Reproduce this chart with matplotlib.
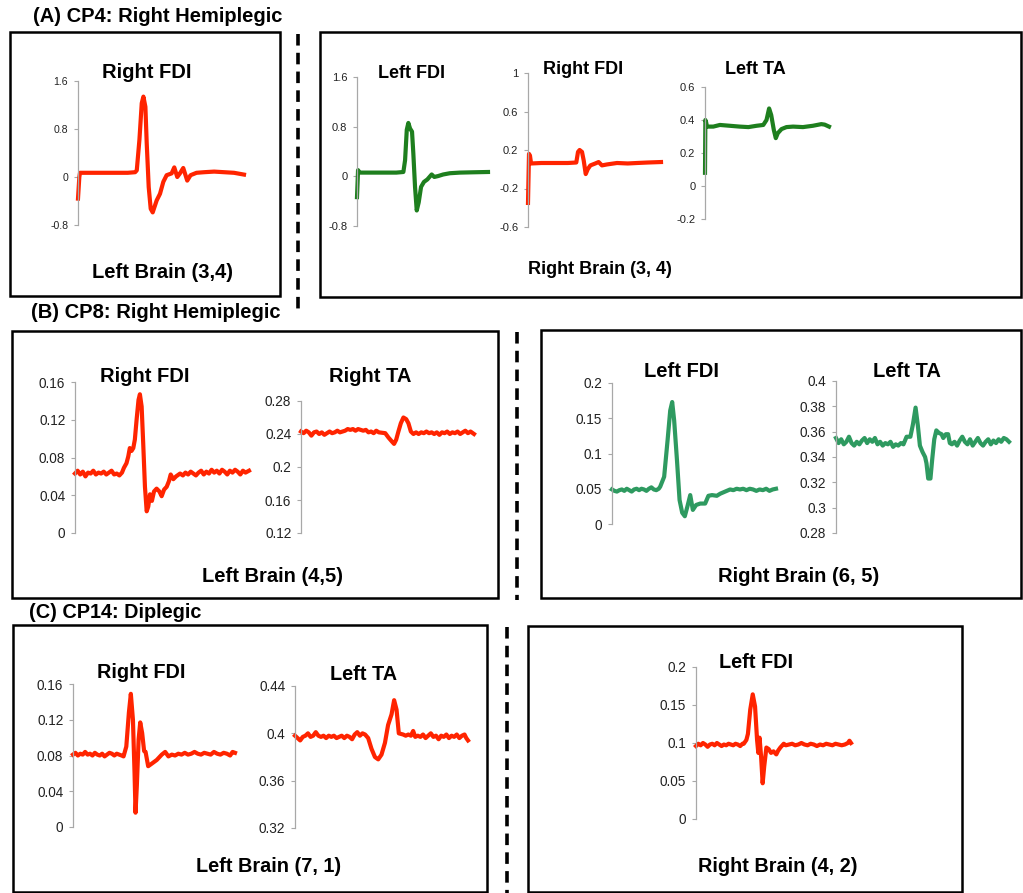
import matplotlib
matplotlib.use('Agg')
import matplotlib.pyplot as plt
from matplotlib import font_manager
from matplotlib.patches import Rectangle
from matplotlib.lines import Line2D

plt.rcParams['font.family'] = ['Liberation Sans', 'DejaVu Sans']

# the right half of panel A is horizontally squeezed in the original
have_narrow = any(f.name == 'Liberation Sans Narrow' for f in font_manager.fontManager.ttflist)
NARROW = ['Liberation Sans Narrow', 'Liberation Sans'] if have_narrow else ['Liberation Sans']

RED = '#FF2400'
DKGREEN = '#1E7F1E'
SEAGREEN = '#2E9A60'

# ---- (A) CP4 ----
a1_x = [0, 0.8, 1.2, 8, 16, 24, 30, 34.4, 35.4, 37.0, 38.4, 39.4, 40.6, 41.4, 42.6, 43.8, 45.0,
        47.4, 49.4, 51.4, 53.4, 56.4, 58.0, 59.8, 61.4, 63.4, 65.8, 67.8, 71.4, 76, 82, 88, 94, 100]
a1_y = [-0.36, 0.0, 0.07, 0.07, 0.07, 0.07, 0.07, 0.08, 0.11, 0.62, 1.23, 1.34, 1.17, 0.56, -0.17, -0.53, -0.59,
        -0.39, -0.28, -0.08, 0.03, 0.06, 0.16, 0.0, 0.06, 0.15, -0.06, 0.03, 0.07, 0.08, 0.09, 0.08, 0.07, 0.04]
a1_ticks = [-0.8, 0, 0.8, 1.6]
a1_labels = ['-0.8', '0', '0.8', '1.6']

a2_x = [0, 0.8, 2, 10, 20, 30, 35.4, 36.7, 38.0, 39.2, 40.5, 42.0, 43.0, 44.3, 45.6, 47.1, 48.9,
        51.1, 53.7, 57.0, 59.0, 62.0, 65.8, 70.9, 78.5, 88.6, 100]
a2_y = [-0.335, 0.1, 0.06, 0.06, 0.06, 0.06, 0.07, 0.26, 0.75, 0.86, 0.77, 0.72, 0.37, -0.17, -0.55, -0.42, -0.17,
        -0.09, -0.05, 0.03, -0.01, 0.005, 0.03, 0.05, 0.06, 0.065, 0.07]
a2_ticks = [-0.8, 0, 0.8, 1.6]
a2_labels = ['-0.8', '0', '0.8', '1.6']

a3_x = [0, 0.75, 1.5, 2.3, 10, 20, 30, 36.3, 37.6, 38.8, 40.6, 41.9, 43.4, 44.9, 46.9, 50.6, 53.1,
        55.6, 59.4, 66.9, 75, 82, 90, 100]
a3_y = [-0.35, 0.16, 0.14, 0.06, 0.065, 0.065, 0.065, 0.07, 0.18, 0.2, 0.18, 0.09, -0.05, 0.0, 0.04, 0.06, 0.075,
        0.04, 0.05, 0.065, 0.06, 0.065, 0.07, 0.075]
a3_ticks = [-0.6, -0.2, 0.2, 0.6, 1.0]
a3_labels = ['-0.6', '-0.2', '0.2', '0.6', '1']

a4_x = [0, 0.3, 0.8, 1.6, 6.7, 12, 20, 28, 35, 41.6, 47, 49.6, 51.7, 53.4, 55.5, 57.1, 58.7, 61.7,
        65.7, 71, 79, 87, 93.8, 96.5, 100]
a4_y = [0.08, 0.40, 0.39, 0.36, 0.36, 0.37, 0.365, 0.36, 0.357, 0.365, 0.37, 0.40, 0.47, 0.43, 0.34, 0.29, 0.32, 0.345,
        0.357, 0.36, 0.357, 0.365, 0.375, 0.372, 0.36]
a4_ticks = [-0.2, 0, 0.2, 0.4, 0.6]
a4_labels = ['-0.2', '0', '0.2', '0.4', '0.6']

# ---- (B) CP8 ----
b1_x = [0, 1.5, 3, 4.5, 6, 7.5, 9, 10.5, 12, 13.5, 15, 16.5, 18, 19.5, 21, 22.5, 24, 25.5, 27,
        28.1, 29.6, 30.6, 31.5, 32.5, 33.5, 34.4, 35.4, 36.5, 37.3, 38.3, 39.2, 40.2, 41.2, 42.1, 43.1,
        44.2, 45.4, 46.9, 48.5, 49.8, 51.2, 52.7, 54, 55, 56.5, 58.1, 60.4,
        62, 63.5, 65, 66.5, 68, 69.5, 71, 72.5, 74, 75.5, 77, 78.5, 80, 81.5, 83, 84.5, 86, 87.5,
        89, 90.5, 92, 93.5, 95, 96.5, 98, 100]
b1_y = [0.063, 0.066, 0.062, 0.065, 0.060, 0.064, 0.063, 0.066, 0.062, 0.064, 0.063, 0.065, 0.062, 0.064,
        0.066, 0.062, 0.063, 0.061, 0.064,
        0.069, 0.074, 0.081, 0.090, 0.087, 0.090, 0.099, 0.120, 0.141, 0.147, 0.134, 0.095, 0.049, 0.023,
        0.028, 0.041, 0.034, 0.044, 0.047, 0.044, 0.039, 0.046, 0.049, 0.055, 0.062, 0.057, 0.060, 0.063,
        0.061, 0.064, 0.062, 0.065, 0.063, 0.061, 0.064, 0.066, 0.062, 0.065, 0.063, 0.067, 0.064, 0.066,
        0.063, 0.067, 0.065, 0.062, 0.066, 0.064, 0.067, 0.065, 0.062, 0.066, 0.064, 0.066]
b1_ticks = [0, 0.04, 0.08, 0.12, 0.16]
b1_labels = ['0', '0.04', '0.08', '0.12', '0.16']

b2_x = [0, 1.5, 3, 4.5, 6, 7.5, 9, 10.5, 12, 13.5, 15, 16.5, 18, 19.5, 21, 22.5, 24, 25.5, 27, 28.5,
        30, 31.5, 33, 34.5, 36, 37.5, 39, 40.5, 42, 43.5, 45,
        48.7, 50.6, 52.5, 53.8, 55, 56.3, 57.7, 59.2, 60.8, 62.1, 63.5, 65,
        66.5, 68, 69.5, 71, 72.5, 74, 75.5, 77, 78.5, 80, 81.5, 83, 84.5, 86, 87.5, 89, 90.5, 92,
        93.5, 95, 96.5, 98, 100]
b2_y = [0.243, 0.241, 0.244, 0.242, 0.238, 0.242, 0.243, 0.240, 0.242, 0.239, 0.241, 0.243, 0.241, 0.242,
        0.244, 0.242, 0.243, 0.244, 0.246, 0.245, 0.246, 0.244, 0.246, 0.245, 0.244, 0.245, 0.242, 0.243,
        0.241, 0.244, 0.242,
        0.241, 0.2356, 0.231, 0.228, 0.233, 0.243, 0.253, 0.260, 0.258, 0.253, 0.243, 0.240,
        0.242, 0.240, 0.242, 0.241, 0.243, 0.241, 0.242, 0.240, 0.242, 0.239, 0.242, 0.241, 0.243, 0.240,
        0.242, 0.241, 0.243, 0.240, 0.242, 0.244, 0.241, 0.243, 0.240]
b2_ticks = [0.12, 0.16, 0.2, 0.24, 0.28]
b2_labels = ['0.12', '0.16', '0.2', '0.24', '0.28']

b3_x = [0, 1.5, 3, 4.5, 6, 7.5, 9, 10.5, 12, 13.5, 15, 16.5, 18, 19.5, 21, 22.5, 24, 25.5, 27, 28.5,
        29.4, 31.8, 33.9, 35.5, 36.7, 37.9, 39.6, 41.2, 42.8, 44.4, 46, 47.7, 49.3, 51.3, 53.8, 56.8,
        58.8, 61, 63.9, 66, 68,
        70, 72, 74, 76, 78, 80, 82, 84, 86, 88, 90, 92, 94, 96, 98, 100]
b3_y = [0.049, 0.047, 0.046, 0.048, 0.049, 0.047, 0.050, 0.048, 0.046, 0.049, 0.050, 0.048, 0.050, 0.049,
        0.047, 0.050, 0.052, 0.049, 0.048, 0.050,
        0.053, 0.067, 0.119, 0.161, 0.173, 0.147, 0.091, 0.034, 0.016, 0.011, 0.025, 0.041, 0.020, 0.027,
        0.029, 0.029, 0.040, 0.041, 0.040, 0.043, 0.045,
        0.047, 0.049, 0.048, 0.050, 0.049, 0.050, 0.048, 0.050, 0.049, 0.047, 0.049, 0.048, 0.050, 0.047,
        0.049, 0.050]
b3_ticks = [0, 0.05, 0.1, 0.15, 0.2]
b3_labels = ['0', '0.05', '0.1', '0.15', '0.2']

b4_x = [0, 1.5, 3, 4.5, 6, 7.5, 9, 10.5, 12, 13.5, 15, 16.5, 18, 19.5, 21, 22.5, 24, 25.5, 27, 28.5,
        30, 31.5, 33, 34.5, 36, 37.5,
        39, 40.8, 43, 44.5, 46, 47.3, 48.5, 50, 51.5, 52.3, 53.3, 54.6, 55.6, 56.8, 58, 59.5, 61, 62,
        63.5, 64.8, 65.8,
        67, 68.5, 70, 71.5, 73, 74.5, 76, 77.5, 79, 80.5, 82, 83.5, 85, 86.5, 88, 89.5, 91, 92.5, 94,
        95.5, 97, 98.5, 100]
b4_y = [0.355, 0.351, 0.354, 0.350, 0.352, 0.356, 0.351, 0.349, 0.352, 0.350, 0.353, 0.355, 0.351, 0.354,
        0.352, 0.355, 0.350, 0.352, 0.349, 0.351, 0.350, 0.352, 0.348, 0.350, 0.349, 0.351,
        0.350, 0.356, 0.356, 0.366, 0.379, 0.365, 0.349, 0.344, 0.340, 0.335, 0.323, 0.323, 0.338, 0.354,
        0.361, 0.359, 0.358, 0.355, 0.358, 0.358, 0.351,
        0.350, 0.352, 0.349, 0.353, 0.356, 0.352, 0.350, 0.354, 0.349, 0.352, 0.355, 0.351, 0.349, 0.352,
        0.354, 0.350, 0.353, 0.351, 0.354, 0.352, 0.355, 0.354, 0.352]
b4_ticks = [0.28, 0.3, 0.32, 0.34, 0.36, 0.38, 0.4]
b4_labels = ['0.28', '0.3', '0.32', '0.34', '0.36', '0.38', '0.4']

# ---- (C) CP14 ----
c1_x = [0, 1.5, 3, 4.5, 6, 7.5, 9, 10.5, 12, 13.5, 15, 16.5, 18, 19.5, 21, 22.5, 24, 25.5, 27, 28.5, 30,
        31.2, 32.9, 34.5, 35.7, 37, 38, 38.6, 39.4, 40.5, 41.5, 42.7, 43.9, 44.8, 46.4, 48.7, 51.7, 54.8,
        56.9, 58.9,
        61, 63, 65, 67, 69, 71, 73, 75, 77, 79, 81, 83, 85, 87, 89, 91, 93, 95, 97, 98.5, 100]
c1_y = [0.081, 0.083, 0.080, 0.082, 0.081, 0.084, 0.081, 0.082, 0.080, 0.083, 0.081, 0.080, 0.082, 0.079,
        0.081, 0.083, 0.082, 0.080, 0.082, 0.081, 0.080,
        0.079, 0.090, 0.128, 0.149, 0.120, 0.060, 0.016, 0.046, 0.098, 0.117, 0.105, 0.085, 0.084, 0.068,
        0.071, 0.075, 0.081, 0.084, 0.079,
        0.081, 0.080, 0.082, 0.081, 0.083, 0.081, 0.082, 0.084, 0.082, 0.081, 0.083, 0.082, 0.081, 0.084,
        0.082, 0.081, 0.083, 0.082, 0.080, 0.084, 0.083]
c1_ticks = [0, 0.04, 0.08, 0.12, 0.16]
c1_labels = ['0', '0.04', '0.08', '0.12', '0.16']

c2_x = [0, 1.5, 3, 4.5, 6, 7.5, 9, 10.5, 12, 13.5, 15, 16.5, 18, 19.5, 21, 22.5, 24, 25.5, 27, 28.5,
        30, 31.5, 33, 34.5, 36, 37.5, 39, 40.5,
        42.3, 44.2, 46.2, 48.1, 50, 52, 53.8, 55.8, 57.3, 58.7, 60, 62.5, 64, 65.5, 67, 68.3, 69.5,
        71, 72.5, 74, 75.5, 77, 78.5, 80, 81.5, 83, 84.5, 86, 87.5, 89, 90.5, 92, 93.5, 95, 96.5, 98,
        99, 100]
c2_y = [0.398, 0.396, 0.394, 0.397, 0.398, 0.400, 0.397, 0.398, 0.401, 0.398, 0.397, 0.398, 0.396, 0.398,
        0.397, 0.398, 0.396, 0.397, 0.398, 0.396, 0.398, 0.397, 0.395, 0.399, 0.401, 0.398, 0.400, 0.399,
        0.396, 0.387, 0.380, 0.378, 0.382, 0.392, 0.407, 0.416, 0.428, 0.420, 0.400, 0.399, 0.398, 0.399,
        0.398, 0.402, 0.397,
        0.398, 0.397, 0.399, 0.396, 0.398, 0.400, 0.397, 0.398, 0.395, 0.398, 0.397, 0.399, 0.396, 0.398,
        0.397, 0.399, 0.396, 0.398, 0.399, 0.396, 0.394]
c2_ticks = [0.32, 0.36, 0.4, 0.44]
c2_labels = ['0.32', '0.36', '0.4', '0.44']

c3_x = [0, 1.5, 3, 4.5, 6, 7.5, 9, 10.5, 12, 13.5, 15, 16.5, 18, 19.5, 21, 22.5, 24, 25.5, 27, 28.5, 30,
        30.8, 32.5, 33.5, 35, 36.6, 38.1, 39.4, 40.2, 41, 42, 43, 44, 45.4, 46.9, 48.4, 50, 51.8, 53,
        54.4, 56.6,
        58, 60, 62, 64, 66, 68, 70, 72, 74, 76, 78, 80, 82, 84, 86, 88, 90, 92, 94, 96, 98, 99, 100]
c3_y = [0.096, 0.099, 0.097, 0.100, 0.098, 0.095, 0.098, 0.099, 0.097, 0.100, 0.098, 0.096, 0.098, 0.097,
        0.099, 0.098, 0.097, 0.099, 0.098, 0.096, 0.099,
        0.099, 0.104, 0.112, 0.144, 0.164, 0.148, 0.104, 0.087, 0.107, 0.082, 0.047, 0.069, 0.094, 0.092,
        0.087, 0.089, 0.085, 0.090, 0.094, 0.099,
        0.097, 0.098, 0.099, 0.097, 0.098, 0.100, 0.098, 0.097, 0.099, 0.098, 0.096, 0.098, 0.097, 0.099,
        0.098, 0.097, 0.099, 0.098, 0.097, 0.098, 0.100, 0.103, 0.100]
c3_ticks = [0, 0.05, 0.1, 0.15, 0.2]
c3_labels = ['0', '0.05', '0.1', '0.15', '0.2']

W, H = 1023, 893
fig = plt.figure(figsize=(W / 100, H / 100), dpi=100)


def fx(x):
    return x / W


def fy(y):
    return 1 - y / H


def trace(left, top, right, bottom, xs, ys, ticks, labels, color, tsize=9.8, family=None):
    ax = fig.add_axes([fx(left), fy(bottom), (right - left) / W, (bottom - top) / H])
    ax.plot(xs, ys, color=color, lw=3.0, clip_on=False, solid_joinstyle='round')
    ax.set_xlim(0, 100)
    ax.set_ylim(ticks[0], ticks[-1])
    ax.set_yticks(ticks)
    ax.set_yticklabels(labels, fontsize=tsize, color='#222222',
                       family=family if family else ['Liberation Sans'])
    ax.set_xticks([])
    for s in ['top', 'right', 'bottom']:
        ax.spines[s].set_visible(False)
    ax.spines['left'].set_color('#A8A8A8')
    ax.spines['left'].set_linewidth(0.9)
    ax.tick_params(axis='y', direction='out', length=3, width=0.8, color='#A8A8A8', pad=4)
    ax.patch.set_visible(False)
    return ax


def label(x, y, s, ha='center', size=14.5, family=None):
    fig.text(fx(x), fy(y), s, ha=ha, va='center', fontsize=size, fontweight='bold',
             family=family if family else ['Liberation Sans'])


def box(x0, y0, x1, y1):
    fig.patches.append(Rectangle((fx(x0), fy(y1)), (x1 - x0) / W, (y1 - y0) / H,
                                 transform=fig.transFigure, fill=False, ec='black', lw=1.8))


def dashed(x, y0, y1):
    fig.lines.append(Line2D([fx(x), fx(x)], [fy(y0), fy(y1)], transform=fig.transFigure,
                            color='black', lw=2.6, dashes=(3.2, 2.0)))


# boxes and separators
box(10, 32, 280, 296)
box(320, 32, 1021, 297)
box(12, 331, 498, 598)
box(541, 330, 1021, 598)
box(13, 625, 487, 892)
box(528, 626, 962, 892)
dashed(298, 34, 312)
dashed(517, 332, 600)
dashed(507, 627, 893)

# panel A
nsz_tick = 9.2 if have_narrow else 8.0
nsz_text = 14.5 if have_narrow else 13.0
label(33, 17, '(A) CP4: Right Hemiplegic', ha='left')
trace(78, 81, 244, 225, a1_x, a1_y, a1_ticks, a1_labels, RED, tsize=7.6)
trace(357, 77, 488, 226, a2_x, a2_y, a2_ticks, a2_labels, DKGREEN, tsize=nsz_tick, family=NARROW)
trace(528, 73, 661, 227, a3_x, a3_y, a3_ticks, a3_labels, RED, tsize=nsz_tick, family=NARROW)
trace(705, 87, 829, 219, a4_x, a4_y, a4_ticks, a4_labels, DKGREEN, tsize=nsz_tick, family=NARROW)
label(147, 72, 'Right FDI')
label(412, 73, 'Left FDI', size=nsz_text, family=NARROW)
label(583, 70, 'Right FDI', size=nsz_text, family=NARROW)
label(755, 70, 'Left TA', size=nsz_text, family=NARROW)
label(163, 272, 'Left Brain (3,4)')
label(600, 270, 'Right Brain (3, 4)', size=nsz_text, family=NARROW)

# panel B
label(31, 313, '(B) CP8: Right Hemiplegic', ha='left')
trace(75, 382, 249, 533, b1_x, b1_y, b1_ticks, b1_labels, RED)
trace(301, 401, 474, 533, b2_x, b2_y, b2_ticks, b2_labels, RED)
trace(612, 383, 776, 524, b3_x, b3_y, b3_ticks, b3_labels, SEAGREEN)
trace(836, 381, 1009, 533, b4_x, b4_y, b4_ticks, b4_labels, SEAGREEN)
label(145, 377, 'Right FDI')
label(370, 377, 'Right TA')
label(681, 371, 'Left FDI')
label(907, 371, 'Left TA')
label(273, 577, 'Left Brain (4,5)')
label(799, 576, 'Right Brain (6, 5)')

# panel C
label(29, 613, '(C) CP14: Diplegic', ha='left', size=14.3)
trace(73, 684, 235, 827, c1_x, c1_y, c1_ticks, c1_labels, RED)
trace(295, 686, 468, 828, c2_x, c2_y, c2_ticks, c2_labels, RED)
trace(696, 667, 851, 819, c3_x, c3_y, c3_ticks, c3_labels, RED)
label(141, 673, 'Right FDI', size=14.3)
label(364, 674, 'Left TA', size=14.3)
label(756, 663, 'Left FDI', size=14.3)
label(269, 867, 'Left Brain (7, 1)', size=14.3)
label(778, 867, 'Right Brain (4, 2)', size=14.3)

fig.savefig('out.png', dpi=100)
